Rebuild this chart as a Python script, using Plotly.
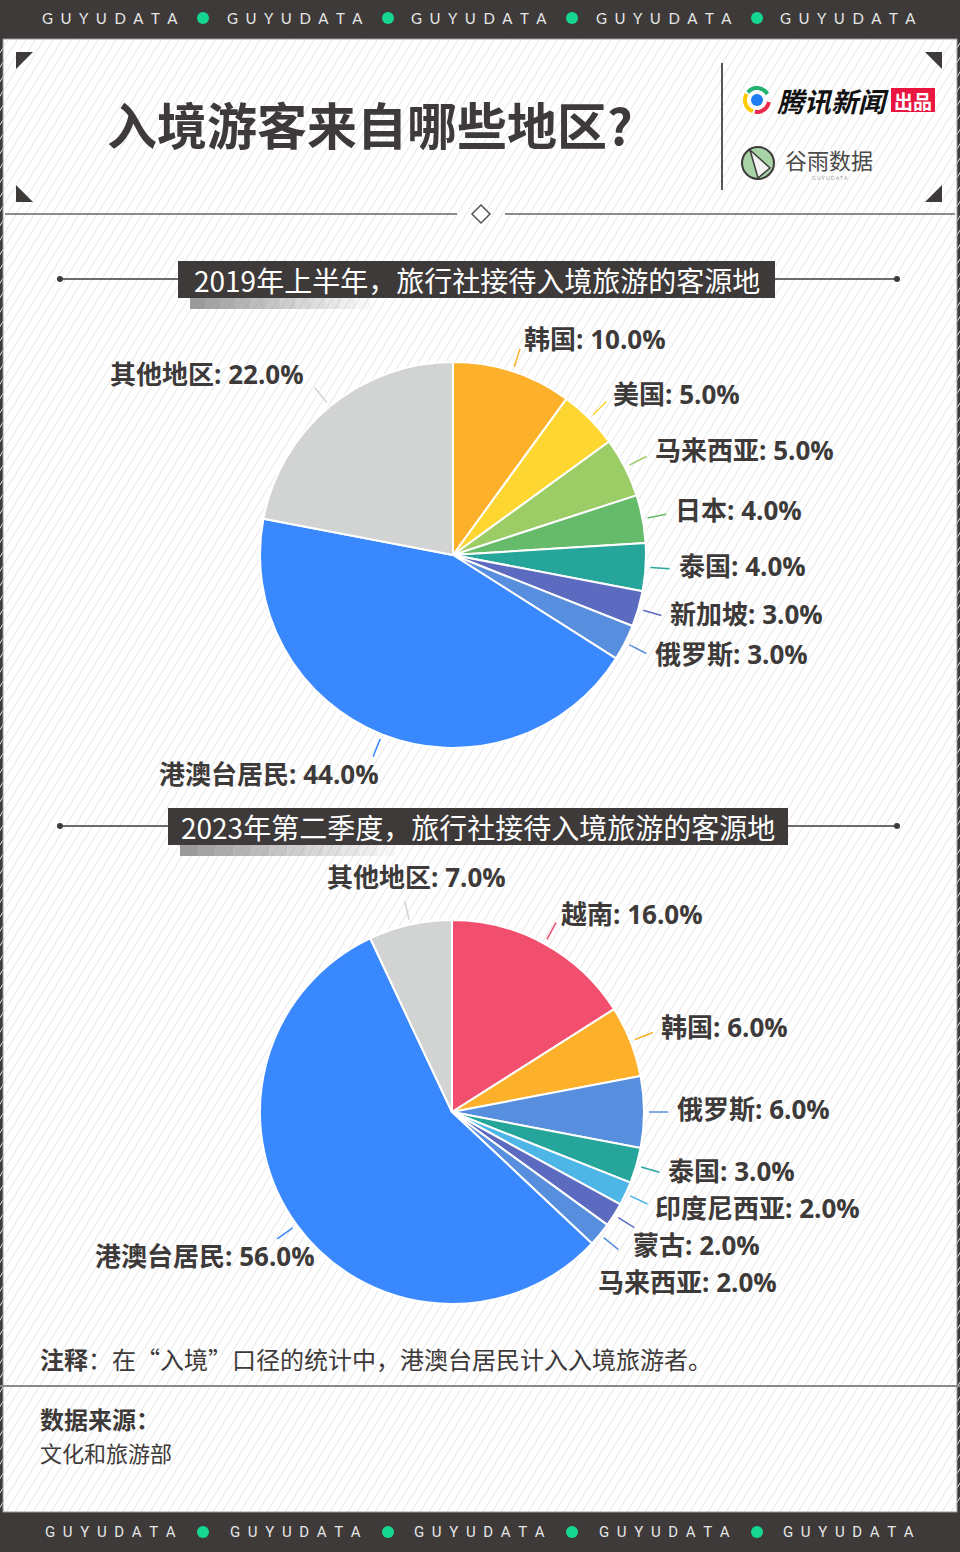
import math
import plotly.graph_objects as go

W, H = 960, 1552
DARK = "#3d3a39"
CJK = "Noto Sans CJK SC"
LABEL_FONT = "Open Sans, Noto Sans CJK SC"
LABEL_SIZE = 26

# ---------------- data ----------------
cats_2019 = ["韩国", "美国", "马来西亚", "日本", "泰国", "新加坡", "俄罗斯", "港澳台居民", "其他地区"]
vals_2019 = [10.0, 5.0, 5.0, 4.0, 4.0, 3.0, 3.0, 44.0, 22.0]
cols_2019 = ["#fdb02a", "#fdd632", "#9ccc65", "#66bb6a", "#26a69a", "#5c6bc0", "#578ede", "#3a88fe", "#d2d3d3"]

cats_2023 = ["越南", "韩国", "俄罗斯", "泰国", "印度尼西亚", "蒙古", "马来西亚", "港澳台居民", "其他地区"]
vals_2023 = [16.0, 6.0, 6.0, 3.0, 2.0, 2.0, 2.0, 56.0, 7.0]
cols_2023 = ["#f24e6e", "#fdb02a", "#578ede", "#26a69a", "#4db6e6", "#5c6bc0", "#578ede", "#3a88fe", "#d2d3d3"]

title_main = "入境游客来自哪些地区?"
title_2019 = "2019年上半年，旅行社接待入境旅游的客源地"
title_2023 = "2023年第二季度，旅行社接待入境旅游的客源地"
note_text = "<b>注释</b>：在“入境”口径的统计中，港澳台居民计入入境旅游者。"
source_head = "<b>数据来源：</b>"
source_text = "文化和旅游部"
brand = "GUYUDATA"

# ---------------- layout geometry ----------------
PIE1 = dict(cx=453, cy=555, r=193)
PIE2 = dict(cx=452, cy=1112, r=192)

shapes = []
annots = []


def ann(x, y, text, size, color=DARK, weight="normal", xanchor="center", yanchor="middle",
        family=CJK, style="normal"):
    annots.append(dict(x=x, y=y, xref="x", yref="y", text=text, showarrow=False,
                       xanchor=xanchor, yanchor=yanchor,
                       font=dict(size=size, color=color, family=family, weight=weight, style=style)))


def rect(x0, y0, x1, y1, fill, layer="above", line=None, opacity=1):
    shapes.append(dict(type="rect", xref="x", yref="y", x0=x0, y0=y0, x1=x1, y1=y1,
                       fillcolor=fill, line=line or dict(width=0), layer=layer, opacity=opacity))


def line(x0, y0, x1, y1, color, width=1.5, layer="above"):
    shapes.append(dict(type="line", xref="x", yref="y", x0=x0, y0=y0, x1=x1, y1=y1,
                       line=dict(color=color, width=width), layer=layer))


def path(p, fill=None, color=None, width=0, layer="above"):
    d = dict(type="path", xref="x", yref="y", path=p, layer=layer,
             line=dict(color=color or "rgba(0,0,0,0)", width=width))
    if fill:
        d["fillcolor"] = fill
    shapes.append(d)


def circle(cx, cy, r, fill, color=None, width=0):
    shapes.append(dict(type="circle", xref="x", yref="y", x0=cx - r, y0=cy - r, x1=cx + r, y1=cy + r,
                       fillcolor=fill, line=dict(color=color or "rgba(0,0,0,0)", width=width), layer="above"))


# white panel + diagonal stripes
rect(3, 39, 957, 1512, "white", layer="below")
stripe = "".join(f"M{x0},{1512} L{x0 + 1473 / 1.6:.1f},39 " for x0 in range(-930, 960, 9))
path(stripe, color="#e6e6e6", width=1, layer="below")
rect(3, 39, 957, 1512, "rgba(0,0,0,0)", layer="below", line=dict(color="#9a9a9a", width=1))

# header and footer bars
rect(0, 0, 960, 38, DARK)
rect(0, 1513, 960, 1552, DARK)
word_x = [110, 295, 479, 664, 848]
dot_x = [203, 388, 572, 757]
spaced = "\u2002".join(brand)
for yy, fam in [(18, "Lato"), (1532, "Roboto")]:
    for wx in word_x:
        ann(wx, yy, spaced, 15, color="#e6e6e6", family=fam)
    for dx in dot_x:
        circle(dx, yy, 6, "#16d693")

# corner triangles
path("M16,52 L33,52 L16,69 Z", fill=DARK)
path("M16,185 L16,202 L33,202 Z", fill=DARK)
path("M925,52 L942,52 L942,69 Z", fill=DARK)
path("M942,185 L942,202 L925,202 Z", fill=DARK)

# main title
ann(370, 123, title_main, 50, weight="bold")

# divider + logos
line(722, 63, 722, 190, "#555555", 2)
ring_c = (757, 100)
for a0, a1, col in [(200, 300, "#fccc00"), (310, 420, "#21b26f"), (100, 190, "#ee2a4e")]:
    pts = []
    for k in range(13):
        a = math.radians(a0 + (a1 - a0) * k / 12)
        pts.append((ring_c[0] + 12 * math.sin(a), ring_c[1] - 12 * math.cos(a)))
    path("M" + " L".join(f"{px:.1f},{py:.1f}" for px, py in pts), color=col, width=4)
circle(757, 100, 6, "#1f7cf2")
ann(775, 100, "腾讯新闻", 27, color="#111111", weight="bold", xanchor="left", style="italic")
rect(891, 88, 935, 112, "#e9163f")
ann(913, 100, "出品", 19, color="white", weight="bold")
circle(758, 163, 16, "#a7d3a6", color=DARK, width=2)
path("M750,150 L770,168 L758,178 Z", fill="#f2f2f2", color=DARK, width=1.5)
ann(783, 159, "谷雨数据", 22, color="#4a4a4a", xanchor="left")
ann(830, 178, "G U Y U D A T A", 5, color="#999999", family="Lato")

# separator with diamond
line(5, 214, 457, 214, "#666666", 1.5)
line(505, 214, 955, 214, "#666666", 1.5)
path("M481,205 L490,214 L481,223 L472,214 Z", fill="white", color="#555555", width=1.5)


def section_title(y, x0, x1, sx1, text):
    line(60, y, 897, y, DARK, 1.5)
    circle(60, y, 3, DARK)
    circle(897, y, 3, DARK)
    n = 12
    for k in range(n):
        xa = x0 + 12 + (sx1 - x0 - 12) * k / n
        xb = x0 + 12 + (sx1 - x0 - 12) * (k + 1) / n
        rect(xa, y + 19, xb, y + 30, "#8a8a8a", opacity=0.85 * (1 - k / n))
    rect(x0, y - 18, x1, y + 19, DARK)
    ann((x0 + x1) / 2, y + 1, text, 28, color="white")


section_title(279, 178, 775, 370, title_2019)
section_title(826, 168, 788, 395, title_2023)


# ---------------- pies ----------------
def add_pie(fig, cats, vals, cols, g):
    cx, cy, r = g["cx"], g["cy"], g["r"]
    fig.add_trace(go.Pie(
        labels=cats, values=vals, sort=False, direction="clockwise", rotation=0,
        marker=dict(colors=cols, line=dict(color="white", width=2)),
        textinfo="none", hoverinfo="label+percent", showlegend=False,
        domain=dict(x=[(cx - r) / W, (cx + r) / W], y=[1 - (cy + r) / H, 1 - (cy - r) / H]),
    ))
    total = sum(vals)
    items = []
    cum = 0
    for name, v, col in zip(cats, vals, cols):
        f = (cum + v / 2) / total
        cum += v
        th = 2 * math.pi * f
        sx, sy = math.sin(th), -math.cos(th)
        ex, ey = cx + (r + 24) * sx, cy + (r + 24) * sy
        line(cx + (r + 5) * sx, cy + (r + 5) * sy, ex, ey, col, 1.5)
        R = r + 31 if sx >= 0 else r + 38
        items.append(dict(name=name, v=v, sx=sx, sy=sy, ex=ex, ey=ey, R=R,
                          x=cx + R * sx, y=cy + R * sy - 3))
    for side in (1, -1):
        grp = sorted([it for it in items if (it["sx"] >= 0) == (side == 1)], key=lambda it: it["y"])
        for k in range(1, len(grp)):
            need = grp[k - 1]["y"] + 37
            if grp[k]["y"] < need:
                grp[k]["y"] = need
                dy = grp[k]["y"] - cy
                R = grp[k]["R"]
                grp[k]["x"] = cx + side * math.sqrt(max(R * R - dy * dy, 0))
    for it in items:
        txt = f"{it['name']}: {it['v']:.1f}%"
        kw = dict(weight="bold", family=LABEL_FONT)
        if abs(it["sx"]) < 0.3 and it["sy"] < 0:
            ann(it["ex"] + 12, it["ey"] - 4, txt, LABEL_SIZE, xanchor="center", yanchor="bottom", **kw)
        elif it["sx"] < 0 and it["sy"] > 0.5:
            ann(it["ex"] - 18 - 71 * it["sx"], it["ey"] + 17, txt, LABEL_SIZE,
                xanchor="right", yanchor="middle", **kw)
        else:
            xa = "left" if it["sx"] > 0 else "right"
            ann(it["x"], it["y"], txt, LABEL_SIZE, xanchor=xa, **kw)


fig = go.Figure()
add_pie(fig, cats_2019, vals_2019, cols_2019, PIE1)
add_pie(fig, cats_2023, vals_2023, cols_2023, PIE2)

# note & source
ann(38, 1358, note_text, 24, xanchor="left")
line(0, 1386, 960, 1386, "#8a8a8a", 2)
ann(38, 1418, source_head, 24, xanchor="left")
ann(38, 1452, source_text, 22, xanchor="left")

fig.update_layout(
    width=W, height=H, margin=dict(l=0, r=0, t=0, b=0),
    paper_bgcolor=DARK, plot_bgcolor="rgba(0,0,0,0)",
    xaxis=dict(range=[0, W], visible=False, domain=[0, 1], fixedrange=True),
    yaxis=dict(range=[H, 0], visible=False, domain=[0, 1], fixedrange=True),
    shapes=shapes, annotations=annots, showlegend=False,
)
fig.write_html("out.html")
